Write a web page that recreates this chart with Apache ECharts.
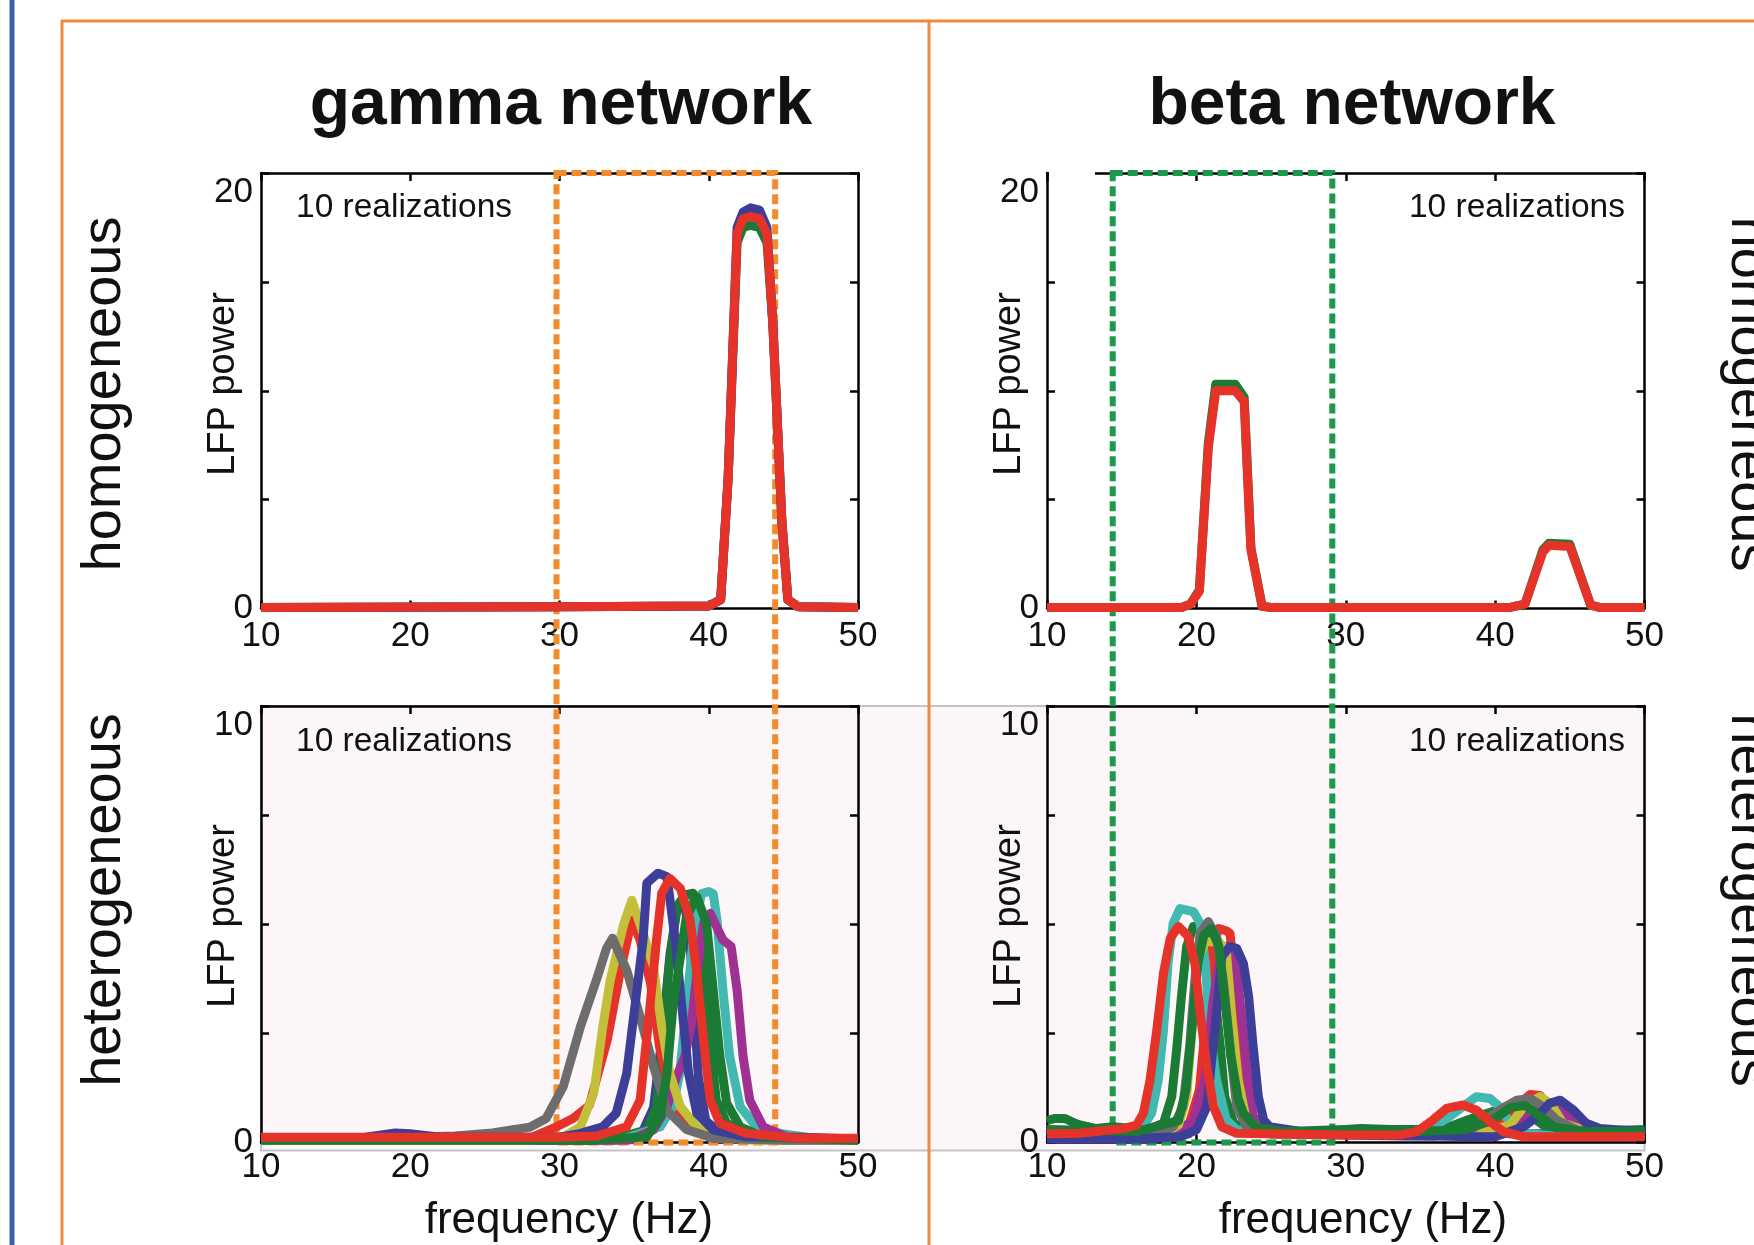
<!DOCTYPE html>
<html>
<head>
<meta charset="utf-8">
<script src="https://cdn.jsdelivr.net/npm/echarts@6/dist/echarts.min.js"></script>
<style>html,body{margin:0;padding:0;background:#fff}#c{width:1754px;height:1245px}</style>
</head>
<body>
<div id="c"></div>
<script>
// ---------------- data ----------------
const freqTicks = [10, 20, 30, 40, 50];
const homPowerTicks = [0, 5, 10, 15, 20];
const hetPowerTicks = [0, 2.5, 5, 7.5, 10];
const homPowerLabels = ['0', '', '', '', '20'];
const hetPowerLabels = ['0', '', '', '', '10'];
const columnTitles = ['gamma network', 'beta network'];
const rowLabels = ['homogeneous', 'heterogeneous'];
const annotation = '10 realizations';
const yTitle = 'LFP power';
const xTitle = 'frequency (Hz)';
const gammaBand = [29.8, 44.45];
const betaBand = [14.4, 29.1];

// homogeneous gamma (3 visible of 10 overlapping realizations)
const gammaHomGreen = [[10,0.05],[30,0.08],[40,0.12],[40.8,0.4],[41.3,6],[41.9,16.8],[42.3,17.5],[42.8,17.6],[43.4,17.5],[43.9,16.8],[44.3,13],[44.9,4],[45.3,0.4],[46,0.08],[50,0.05]];
const gammaHomBlue  = [[10,0.05],[30,0.08],[40,0.12],[40.8,0.4],[41.3,6],[41.9,17.5],[42.3,18.2],[42.8,18.4],[43.4,18.3],[43.9,17.5],[44.3,13],[44.9,4],[45.3,0.4],[46,0.08],[50,0.05]];
const gammaHomRed   = [[10,0.05],[30,0.08],[40,0.12],[40.8,0.4],[41.3,6],[41.9,17.2],[42.3,17.9],[42.8,18.0],[43.4,17.9],[43.9,17.2],[44.3,13],[44.9,4],[45.3,0.4],[46,0.08],[50,0.05]];

// homogeneous beta
const betaHomGreen = [[10,0.05],[19,0.05],[19.6,0.2],[20.2,0.85],[20.8,7.6],[21.3,10.3],[22.6,10.3],[23.2,9.7],[23.65,2.8],[24.4,0.1],[25,0.05],[41,0.05],[42.0,0.2],[43.2,2.7],[43.6,3.0],[45.0,2.95],[46.4,0.15],[47,0.05],[50,0.05]];
const betaHomRed   = [[10,0.05],[19,0.05],[19.6,0.2],[20.2,0.8],[20.8,7.4],[21.3,10.0],[22.6,10.0],[23.2,9.5],[23.65,2.7],[24.4,0.1],[25,0.05],[41,0.05],[42.0,0.2],[43.2,2.6],[43.6,2.9],[45.0,2.85],[46.4,0.15],[47,0.05],[50,0.05]];

// heterogeneous gamma, in plotting order
const gammaHetBlue1   = [[10,0.05],[33,0.05],[35.5,0.2],[36.3,0.8],[36.9,2.5],[37.4,4.3],[37.9,5.4],[38.3,5.6],[38.7,4.8],[39.0,3.2],[39.3,1.5],[39.8,0.5],[41,0.15],[50,0.05]];
const gammaHetGreen1  = [[10,0.05],[30,0.05],[33.6,0.08],[35.85,0.29],[36.5,0.82],[36.85,1.97],[37.3,3.88],[37.85,5.4],[38.4,5.67],[38.95,5.71],[39.5,4.26],[40.1,2.35],[40.5,0.97],[41.2,0.44],[42.5,0.21],[45,0.08],[50,0.05]];
const gammaHetRed1    = [[10,0.08],[28,0.1],[29.8,0.36],[30.9,0.55],[32.0,0.85],[33.2,2.35],[34.05,3.88],[34.85,5.1],[35.4,4.64],[36.1,3.65],[36.7,2.2],[37.4,1.13],[38.5,0.36],[40.3,0.1],[50,0.08]];
const gammaHetCyan    = [[10,0.05],[34,0.05],[36.75,0.36],[37.6,0.82],[38.05,1.58],[38.5,3.11],[38.95,4.64],[39.5,5.7],[40.0,5.75],[40.3,5.7],[40.55,5.1],[40.95,3.49],[41.4,1.97],[42.1,0.82],[43.2,0.36],[44.8,0.21],[47,0.1],[50,0.08]];
const gammaHetMagenta = [[10,0.05],[33,0.05],[34.7,0.06],[36.3,0.29],[37.2,0.82],[37.85,1.51],[38.4,1.97],[38.85,2.73],[39.2,3.88],[39.65,5.02],[40.1,5.25],[40.95,4.64],[41.5,4.49],[41.9,3.49],[42.3,1.97],[42.75,0.97],[43.65,0.36],[45.2,0.13],[50,0.08]];
const gammaHetYellow  = [[10,0.05],[28,0.05],[30.25,0.13],[31.4,0.36],[32.3,1.13],[32.9,2.65],[33.4,3.72],[34.3,5.0],[34.85,5.55],[35.6,4.79],[36.3,4.03],[36.85,2.65],[37.4,1.58],[38.1,0.82],[39.2,0.36],[40.75,0.13],[43,0.05],[50,0.05]];
const gammaHetGray    = [[10,0.08],[18,0.1],[23,0.15],[25.5,0.22],[27,0.3],[28,0.35],[29.1,0.55],[30.25,1.28],[31.4,2.65],[32.5,3.75],[33.15,4.45],[33.55,4.68],[34.5,3.95],[35.4,2.88],[36.3,1.74],[37.2,0.74],[38.5,0.3],[40.3,0.1],[45,0.05],[50,0.05]];
const gammaHetBlue2   = [[10,0.1],[17,0.12],[19,0.22],[20,0.2],[22,0.12],[30,0.12],[31.4,0.21],[32.9,0.36],[33.8,0.67],[34.5,1.58],[35.05,3.11],[35.6,4.64],[35.85,5.94],[36.6,6.17],[37.2,6.09],[37.75,4.64],[38.2,3.11],[38.65,1.58],[39.2,0.67],[40.3,0.29],[42.5,0.13],[50,0.08]];
const gammaHetGreen2  = [[10,0.05],[32,0.05],[35.85,0.13],[36.75,0.6],[37.2,1.58],[37.6,3.11],[38.1,4.26],[38.5,5.17],[39.2,5.63],[39.85,5.02],[40.3,3.49],[40.75,1.97],[41.2,0.9],[42.1,0.36],[43.65,0.13],[50,0.05]];
const gammaHetRed2    = [[10,0.12],[30,0.12],[32.5,0.15],[34.5,0.36],[35.4,0.97],[35.95,2.73],[36.5,4.64],[36.85,5.71],[37.4,6.05],[38.1,5.82],[38.75,5.1],[39.2,3.88],[39.65,2.35],[40.1,0.97],[40.75,0.44],[42.5,0.21],[45.9,0.1],[50,0.1]];

// heterogeneous beta, in plotting order
const betaHetBlue1   = [[10,0.08],[17,0.08],[19.5,0.2],[20.3,0.7],[20.8,2.0],[21.2,3.5],[21.6,4.3],[22.0,4.3],[22.4,3.6],[22.8,2.1],[23.2,0.9],[23.7,0.4],[25,0.2],[34,0.15],[36,0.15],[37.5,0.25],[38.5,0.35],[39.5,0.3],[41,0.2],[43,0.2],[50,0.15]];
const betaHetGreen1  = [[10,0.5],[10.5,0.55],[11.2,0.55],[12,0.42],[13.3,0.32],[14.4,0.36],[16.7,0.29],[17.8,0.44],[18.35,1.05],[18.7,2.2],[19.0,3.34],[19.35,4.49],[19.8,4.95],[20.45,4.95],[20.9,4.49],[21.25,3.34],[21.6,2.2],[21.9,1.05],[22.5,0.44],[23.6,0.25],[26,0.25],[30,0.3],[31,0.32],[33,0.3],[35,0.3],[36.95,0.36],[38.75,0.59],[40.1,0.74],[41.0,0.86],[41.9,0.74],[42.75,0.52],[43.65,0.29],[46,0.25],[50,0.3]];
const betaHetRed1    = [[10,0.15],[18,0.15],[19.5,0.4],[20.2,1.2],[20.7,3.0],[21.1,4.5],[21.5,4.9],[22.0,4.85],[22.25,4.79],[22.6,3.72],[22.9,2.2],[23.35,0.82],[24,0.35],[25,0.2],[39,0.2],[40.5,0.45],[41.5,0.85],[42.35,1.1],[43,1.08],[43.7,0.8],[44.6,0.44],[46,0.25],[50,0.2]];
const betaHetCyan    = [[10,0.15],[15,0.2],[16.45,0.36],[17.0,0.67],[17.45,1.43],[17.8,2.58],[18.1,4.1],[18.45,5.02],[18.9,5.36],[19.8,5.29],[20.25,5.02],[20.6,4.1],[20.9,2.58],[21.35,1.43],[22.0,0.52],[22.7,0.29],[25,0.2],[34,0.2],[35.85,0.36],[36.95,0.59],[37.85,0.82],[38.75,1.05],[39.65,1.01],[40.3,0.82],[41.0,0.44],[41.9,0.21],[44,0.15],[50,0.15]];
const betaHetMagenta = [[10,0.1],[18,0.12],[19.8,0.5],[20.6,1.5],[21.1,3.2],[21.6,4.3],[22.1,4.5],[22.6,4.2],[23.0,3.0],[23.4,1.6],[23.8,0.6],[24.5,0.3],[26,0.2],[40,0.2],[41.5,0.45],[42.7,0.75],[43.6,0.9],[44.4,0.8],[45.3,0.45],[46.5,0.25],[50,0.2]];
const betaHetYellow  = [[10,0.12],[17.5,0.12],[18.8,0.4],[19.35,1.05],[19.8,2.96],[20.0,4.1],[20.6,4.6],[21.5,4.6],[22.0,4.41],[22.35,2.96],[22.8,1.43],[23.35,0.52],[24.5,0.25],[39,0.2],[41,0.4],[42,0.85],[43.0,1.05],[43.7,0.9],[44.55,0.44],[45.9,0.29],[48,0.2],[50,0.2]];
const betaHetGray    = [[10,0.15],[17,0.15],[18.45,0.36],[19.1,0.82],[19.55,2.2],[19.9,3.72],[20.25,4.79],[20.8,5.06],[21.35,4.72],[21.8,3.72],[22.25,2.2],[22.7,0.82],[23.35,0.36],[25,0.2],[38,0.2],[40.3,0.74],[41.45,0.97],[42.35,1.01],[43.2,0.82],[44.1,0.52],[45.45,0.29],[47,0.2],[50,0.2]];
const betaHetBlue2   = [[10,0.1],[16,0.1],[18.9,0.13],[20.0,0.29],[20.7,0.82],[21.0,1.81],[21.35,2.96],[21.7,4.26],[22.25,4.49],[22.7,4.45],[23.15,4.1],[23.5,3.34],[23.8,2.2],[24.15,1.05],[24.5,0.52],[24.9,0.36],[26.3,0.29],[28,0.2],[36,0.15],[38.5,0.13],[40,0.13],[41.9,0.36],[42.8,0.59],[43.65,0.9],[44.35,0.97],[45.25,0.74],[46.1,0.44],[47.0,0.32],[48.1,0.29],[50,0.25]];
const betaHetGreen2  = [[10,0.3],[16,0.25],[18.8,0.5],[19.3,1.2],[19.7,2.6],[20.1,4.1],[20.5,4.75],[21.0,4.9],[21.5,4.5],[21.9,3.3],[22.3,2.0],[22.8,1.0],[23.15,0.67],[24,0.35],[26,0.25],[35,0.25],[38,0.3],[40,0.55],[41,0.8],[42,0.85],[43,0.6],[44,0.35],[46,0.25],[50,0.25]];
const betaHetRed2    = [[10,0.2],[12.2,0.21],[15.1,0.32],[16.0,0.4],[16.45,0.67],[16.9,1.43],[17.35,2.58],[17.8,3.88],[18.25,4.68],[18.8,4.95],[19.45,4.72],[19.9,4.1],[20.25,2.96],[20.7,1.74],[21.15,0.82],[21.7,0.36],[22.7,0.21],[30,0.17],[33.6,0.17],[34.75,0.25],[35.85,0.52],[36.75,0.78],[37.85,0.86],[38.75,0.74],[39.65,0.48],[40.55,0.25],[41.9,0.13],[50,0.13]];

// ---------------- styles ----------------
const COL = {blue:'#3c3e98', green:'#1b7a34', red:'#e6332a', cyan:'#42b9b0', magenta:'#9e3191', yellow:'#c2c03a', gray:'#6d6d6d'};
const SANS = "'Liberation Sans', Arial, Helvetica, sans-serif";
const ORANGE = '#f28a2e', DGREEN = '#1c9a4c', FRAME = '#ef8a3c', BLUEFRAME = '#3a5fa6';
const LW = 9;
const TICKFONT = 35;

const panels = [
  {grid:{left:261, top:173, width:597, height:435.5}, ticks:homPowerTicks, labels:homPowerLabels,
   lines:[[gammaHomGreen,'green'],[gammaHomBlue,'blue'],[gammaHomRed,'red']]},
  {grid:{left:1047, top:173, width:597.5, height:435.5}, ticks:homPowerTicks, labels:homPowerLabels,
   lines:[[betaHomGreen,'green'],[betaHomRed,'red']]},
  {grid:{left:261, top:706, width:597, height:436.5}, ticks:hetPowerTicks, labels:hetPowerLabels,
   lines:[[gammaHetBlue1,'blue'],[gammaHetGreen1,'green'],[gammaHetRed1,'red'],[gammaHetCyan,'cyan'],[gammaHetMagenta,'magenta'],
          [gammaHetYellow,'yellow'],[gammaHetGray,'gray'],[gammaHetBlue2,'blue'],[gammaHetGreen2,'green'],[gammaHetRed2,'red']]},
  {grid:{left:1047, top:706, width:597.5, height:436.5}, ticks:hetPowerTicks, labels:hetPowerLabels,
   lines:[[betaHetBlue1,'blue'],[betaHetGreen1,'green'],[betaHetRed1,'red'],[betaHetCyan,'cyan'],[betaHetMagenta,'magenta'],
          [betaHetYellow,'yellow'],[betaHetGray,'gray'],[betaHetBlue2,'blue'],[betaHetGreen2,'green'],[betaHetRed2,'red']]}
];

const grids = [], xAxes = [], yAxes = [], series = [];
const axLine = {show:true, onZero:false, lineStyle:{color:'#000', width:2.5}};
const axTick = {show:true, inside:true, length:8, lineStyle:{color:'#000', width:2.5}};
panels.forEach((p, gi) => {
  grids.push(Object.assign({show:false, containLabel:false}, p.grid));
  const fmin = freqTicks[0], fmax = freqTicks[freqTicks.length-1];
  const fint = freqTicks[1] - freqTicks[0];
  ['bottom','top'].forEach(pos => xAxes.push({
    type:'value', gridIndex:gi, position:pos, min:fmin, max:fmax, interval:fint,
    axisLine:axLine, axisTick:axTick, splitLine:{show:false},
    axisLabel:{show:pos==='bottom', margin: gi<2 ? 10 : 7, fontSize:TICKFONT, fontFamily:SANS, color:'#111',
      formatter: v => String(v)}
  }));
  const pmin = p.ticks[0], pmax = p.ticks[p.ticks.length-1];
  const pint = p.ticks[1] - p.ticks[0];
  ['left','right'].forEach(pos => yAxes.push({
    type:'value', gridIndex:gi, position:pos, min:pmin, max:pmax, interval:pint,
    axisLine:axLine, axisTick:axTick, splitLine:{show:false},
    axisLabel:{show:pos==='left', margin:8, fontSize:TICKFONT, fontFamily:SANS, color:'#111',
      formatter: v => {
        const i = p.ticks.indexOf(v);
        const t = i >= 0 ? p.labels[i] : '';
        if (!t) return '';
        return v === pmax ? '{d|' + t + '}' : t;
      },
      rich:{d:{fontSize:TICKFONT, fontFamily:SANS, color:'#111', padding:[38,0,0,0]}}}
  }));
  p.lines.forEach(([data, c]) => series.push({
    type:'line', xAxisIndex:2*gi, yAxisIndex:2*gi, data:data, showSymbol:false, symbol:'none',
    clip:false, animation:false, silent:true, z:3,
    lineStyle:{color:COL[c], width:LW, join:'round', cap:'butt'}
  }));
});

const chart = echarts.init(document.getElementById('c'), null, {renderer:'canvas', width:1754, height:1245});
chart.setOption({animation:false, backgroundColor:'#fff', grid:grids, xAxis:xAxes, yAxis:yAxes, series:series});

// ---------------- decorations & text ----------------
const px = (gi, x, y) => chart.convertToPixel({xAxisIndex:2*gi, yAxisIndex:2*gi}, [x, y]);
const g = [];
{
  const a = px(2, 10, 10), b = px(3, 50, 0);
  g.push({type:'rect', z:-5, shape:{x:a[0], y:a[1], width:b[0]-a[0], height:b[1]-a[1]+8},
    style:{fill:'#fcf6f8', stroke:'#c4c4c4', lineWidth:2}});
}
g.push({type:'line', z:1, shape:{x1:61, y1:21, x2:1754, y2:21}, style:{stroke:FRAME, lineWidth:3}});
g.push({type:'line', z:1, shape:{x1:62, y1:20, x2:62, y2:1245}, style:{stroke:FRAME, lineWidth:3}});
g.push({type:'line', z:1, shape:{x1:929, y1:20, x2:929, y2:1245}, style:{stroke:FRAME, lineWidth:3}});
g.push({type:'line', z:1, shape:{x1:12, y1:0, x2:12, y2:1245}, style:{stroke:BLUEFRAME, lineWidth:5}});
{
  const a = px(1, 10, 20);
  g.push({type:'rect', z:2, shape:{x:a[0]+2, y:a[1]-3, width:46, height:6}, style:{fill:'#fff'}});
}
[[gammaBand, 0, 2, ORANGE], [betaBand, 1, 3, DGREEN]].forEach(([band, gt, gb, col]) => {
  const a = px(gt, band[0], 20), b = px(gb, band[1], 0);
  g.push({type:'rect', z:2, shape:{x:a[0], y:a[1], width:b[0]-a[0], height:b[1]-a[1]},
    style:{fill:'none', stroke:col, lineWidth:6, lineDash:[10,5]}});
});
[[561, 0], [1352, 1]].forEach(([x, i]) => g.push({type:'text', z:5, x:x, y:106,
  style:{text:columnTitles[i], font:'bold 66px ' + SANS, fill:'#111', textAlign:'center', textVerticalAlign:'middle'}}));
[[394, 0], [900, 1]].forEach(([y, i]) => {
  g.push({type:'text', z:5, x:105, y:y, rotation:Math.PI/2,
    style:{text:rowLabels[i], font:'56px ' + SANS, fill:'#111', textAlign:'center', textVerticalAlign:'middle'}});
  g.push({type:'text', z:5, x:1747, y:y, rotation:-Math.PI/2,
    style:{text:rowLabels[i], font:'56px ' + SANS, fill:'#111', textAlign:'center', textVerticalAlign:'middle'}});
});
[[296, 208, 'left'], [1625, 208, 'right'], [296, 742, 'left'], [1625, 742, 'right']].forEach(([x, y, al]) =>
  g.push({type:'text', z:5, x:x, y:y, style:{text:annotation, font:'33.5px ' + SANS, fill:'#111', textAlign:al, textVerticalAlign:'middle'}}));
[[224, 384], [1010, 384], [224, 916], [1010, 916]].forEach(([x, y]) =>
  g.push({type:'text', z:5, x:x, y:y, rotation:Math.PI/2,
    style:{text:yTitle, font:'38px ' + SANS, fill:'#111', textAlign:'center', textVerticalAlign:'middle'}}));
[[569, 1221], [1363, 1221]].forEach(([x, y]) =>
  g.push({type:'text', z:5, x:x, y:y,
    style:{text:xTitle, font:'44px ' + SANS, fill:'#111', textAlign:'center', textVerticalAlign:'middle'}}));
chart.setOption({graphic:g});
</script>
</body>
</html>
